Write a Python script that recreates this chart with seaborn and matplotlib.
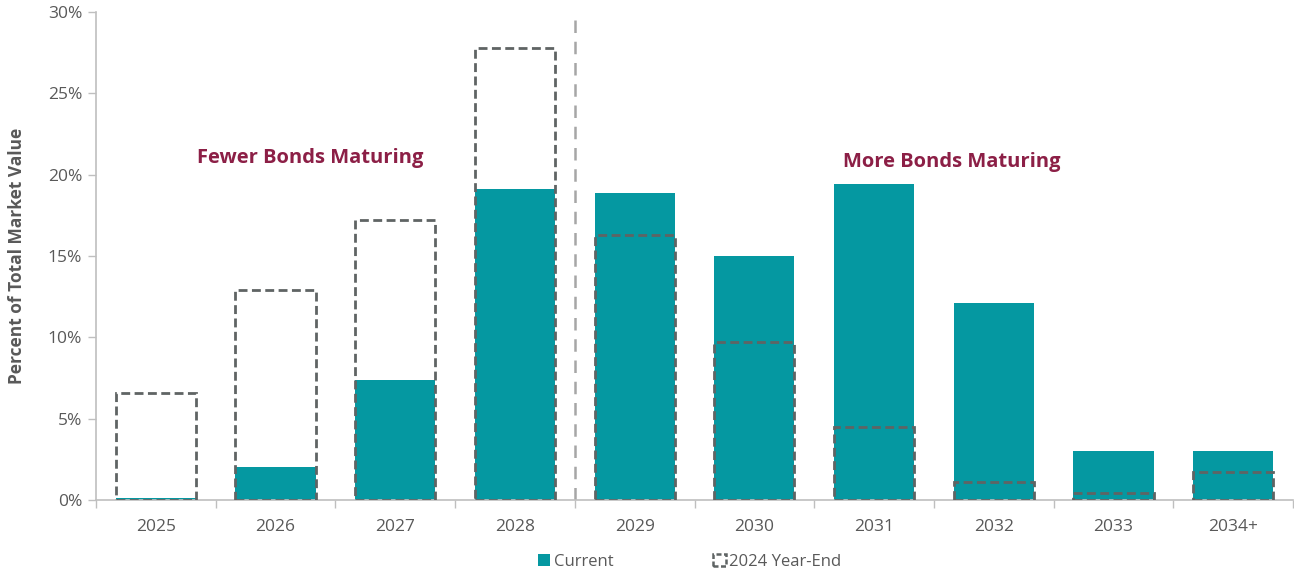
import matplotlib
matplotlib.use("Agg")
import matplotlib.pyplot as plt
from matplotlib.patches import Patch
from matplotlib.ticker import FuncFormatter, FixedLocator
import seaborn as sns
import pandas as pd

years = ["2025", "2026", "2027", "2028", "2029", "2030", "2031", "2032", "2033", "2034+"]
current = [0.1, 2.0, 7.4, 19.1, 18.9, 15.0, 19.4, 12.1, 3.0, 3.0]
year_end_2024 = [6.6, 12.9, 17.2, 27.8, 16.3, 9.7, 4.5, 1.1, 0.4, 1.7]

teal = "#0598A1"
dash_gray = "#5F6464"
maroon = "#8C1F46"
text_gray = "#595959"
axis_gray = "#BFBFBF"

sns.set_theme(style="white")
plt.rcParams["font.family"] = ["Open Sans", "DejaVu Sans"]

df = pd.DataFrame({"year": years, "current": current, "prior": year_end_2024})

fig = plt.figure(figsize=(12.94, 5.72), dpi=100)
ax = fig.add_axes([96 / 1294, 72 / 572, 1197 / 1294, 488 / 572])

sns.barplot(data=df, x="year", y="current", color=teal, saturation=1,
            width=0.67, ax=ax, linewidth=0, zorder=2)
sns.barplot(data=df, x="year", y="prior", color=dash_gray, fill=False,
            width=0.67, ax=ax, linewidth=2.0, linestyle=(0, (3.2, 1.6)), zorder=3)

ax.set_xlim(-0.5, len(years) - 0.5)
ax.set_ylim(0, 30)
ax.set_yticks(range(0, 31, 5))
ax.yaxis.set_major_formatter(FuncFormatter(lambda v, p: f"{v:.0f}%"))

# category boundary ticks on the x axis, labels at centres
ax.xaxis.set_minor_locator(FixedLocator([i - 0.5 for i in range(len(years) + 1)]))
ax.tick_params(axis="x", which="major", length=0, pad=14, labelsize=12.5, labelcolor=text_gray)
ax.tick_params(axis="x", which="minor", length=6, width=1, color=axis_gray, direction="out", bottom=True)
ax.tick_params(axis="y", which="major", length=6, width=1, color=axis_gray, direction="out",
               left=True, labelsize=12.5, labelcolor=text_gray, pad=4)

for side in ["top", "right"]:
    ax.spines[side].set_visible(False)
for side in ["left", "bottom"]:
    ax.spines[side].set_color(axis_gray)
    ax.spines[side].set_linewidth(1.2)

ax.set_xlabel("")
ax.set_ylabel("Percent of Total Market Value", fontsize=12.5, fontweight="bold",
              color=text_gray, labelpad=16)

# divider between the two groups of maturities
ax.axvline(3.5, color="#A6A6A6", linewidth=1.8, linestyle=(0, (5, 3.5)), zorder=1)

ax.text(1.29, 21.0, "Fewer Bonds Maturing", color=maroon, fontsize=14.5,
        fontweight="bold", ha="center", va="center")
ax.text(6.65, 20.8, "More Bonds Maturing", color=maroon, fontsize=14.5,
        fontweight="bold", ha="center", va="center")

handles = [
    Patch(facecolor=teal, edgecolor="none", label="Current"),
    Patch(facecolor="none", edgecolor=dash_gray, linestyle=(0, (2, 1)), linewidth=1.8,
          label="2024 Year-End"),
]
leg = fig.legend(handles=handles, loc="center", bbox_to_anchor=(0.533, 0.018), ncol=2,
                 frameon=False, fontsize=12, handlelength=0.75, handleheight=0.75,
                 handletextpad=0.2, columnspacing=6.0)
for t in leg.get_texts():
    t.set_color(text_gray)

fig.savefig("out.png", dpi=100)
